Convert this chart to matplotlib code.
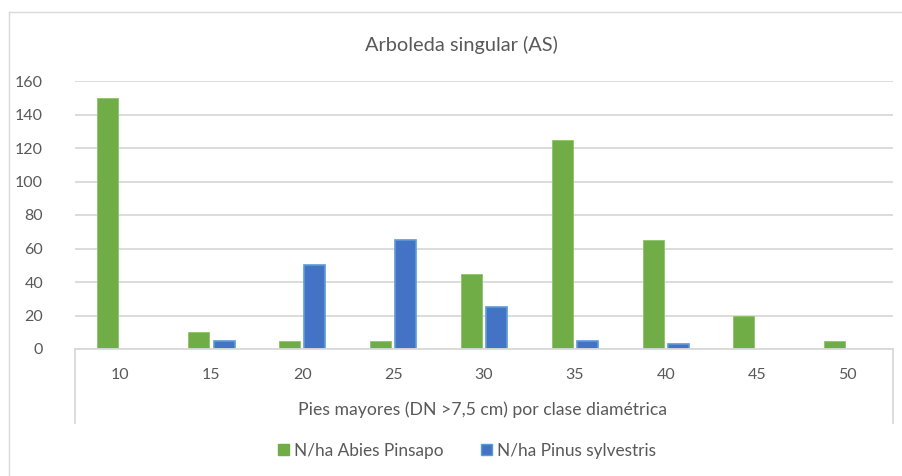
import matplotlib
matplotlib.use("Agg")
import matplotlib.pyplot as plt
from matplotlib.lines import Line2D
from matplotlib.patches import Patch
import numpy as np

categories = ["10", "15", "20", "25", "30", "35", "40", "45", "50"]
abies = [150, 10, 5, 5, 45, 125, 65, 20, 5]
pinus = [0, 5, 50, 65, 25, 5, 3, 0, 0]
series_names = ["N/ha Abies Pinsapo", "N/ha Pinus sylvestris"]
title = "Arboleda singular (AS)"
xlabel = "Pies mayores (DN >7,5 cm) por clase diamétrica"
yticks = [0, 20, 40, 60, 80, 100, 120, 140, 160]

W, H = 903, 476
plt.rcParams['font.family'] = ['Lato', 'DejaVu Sans']
txt = "#595959"
grid = "#D9D9D9"
green = "#70AD47"
blue = "#4472C4"

fig = plt.figure(figsize=(W / 100, H / 100), dpi=100)
fig.patch.set_facecolor("white")

def fx(px):
    return px / W

def fy(py):
    return 1 - py / H

ax = fig.add_axes([fx(75), fy(349), fx(893) - fx(75), fy(81) - fy(349)])
x = np.arange(len(categories))
off, bw = 0.14, 0.23
g_edges = ["#8DC26A" if v > 0 else "none" for v in abies]
b_edges = ["#5B9BD5" if v > 0 else "none" for v in pinus]
ax.bar(x - off, abies, bw, color=green, edgecolor=g_edges, linewidth=0.6, zorder=3)
ax.bar(x + off, pinus, bw, color=blue, edgecolor=b_edges, linewidth=1.2, zorder=3)

ax.set_xlim(-0.5, len(categories) - 0.5)
ax.set_ylim(0, 160)
ax.set_yticks(yticks)
ax.set_yticklabels([str(v) for v in yticks], fontsize=11.5, color=txt)
ax.set_xticks(x)
ax.set_xticklabels(categories, fontsize=11.5, color=txt)
ax.tick_params(axis='y', length=0, pad=23)
ax.tick_params(axis='x', length=0, pad=14)
ax.yaxis.grid(True, color=grid, linewidth=1.3, zorder=0)
for s in ["top", "right", "left"]:
    ax.spines[s].set_visible(False)
ax.spines["bottom"].set_color(grid)
ax.spines["bottom"].set_linewidth(1.3)
ax.spines["bottom"].set_zorder(4)

# x-axis box lines
for px in (75, 893):
    fig.add_artist(Line2D([fx(px), fx(px)], [fy(349), fy(423)], color=grid, linewidth=1.3))

# outer chart border
fig.add_artist(Line2D([fx(9), 1], [fy(12), fy(12)], color=grid, linewidth=1.0))
fig.add_artist(Line2D([fx(9), fx(9)], [fy(12), 0], color=grid, linewidth=1.0))

fig.text(fx(461.5), fy(45), title, ha="center", va="center", fontsize=14.4, color=txt)
fig.text(fx(483), fy(410), xlabel, ha="center", va="center", fontsize=12.7, color=txt)

handles = [Patch(facecolor=green, edgecolor=green), Patch(facecolor=blue, edgecolor="#5B9BD5")]
fig.legend(handles, series_names, loc="center", bbox_to_anchor=(fx(467), fy(451)), ncol=2,
           frameon=False, fontsize=12.4, labelcolor=txt, handlelength=0.6, handleheight=0.6,
           handletextpad=0.3, columnspacing=2.2)

fig.savefig("out.png", dpi=100, facecolor="white")
